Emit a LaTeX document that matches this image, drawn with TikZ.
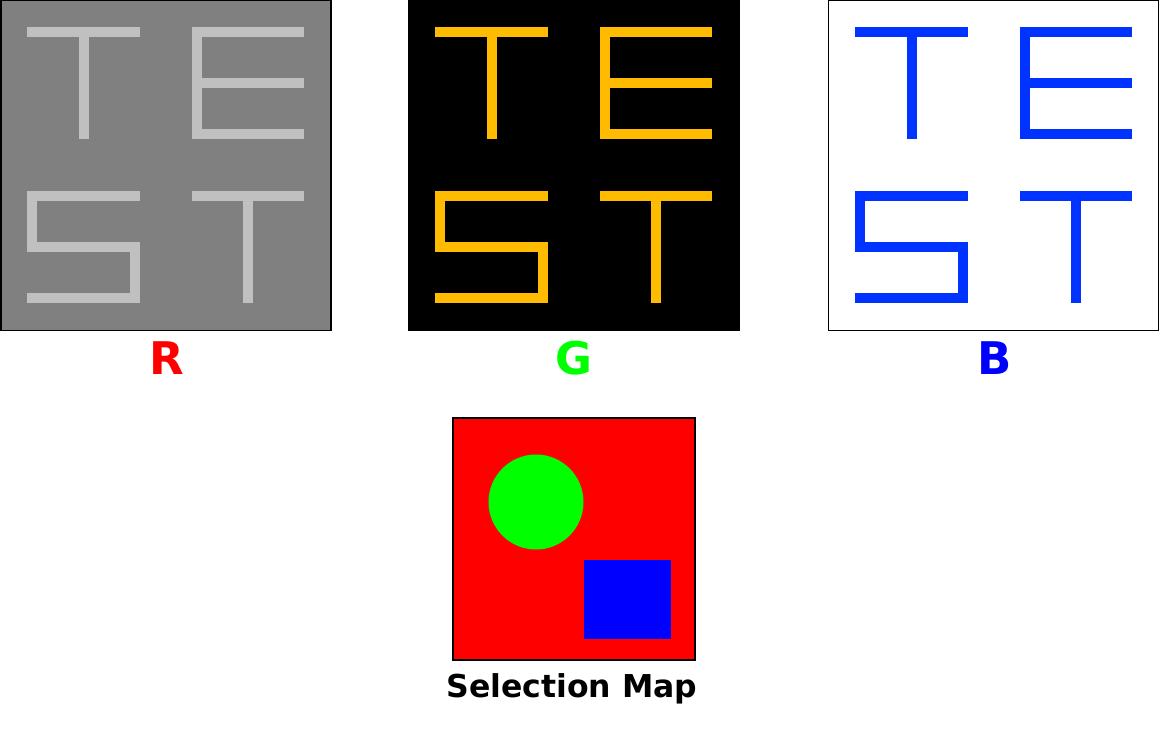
\documentclass[tikz,border=0pt]{standalone}
\usepackage{fontspec}
\setmainfont{DejaVu Sans}
\definecolor{panelgray}{HTML}{808080}
\definecolor{lettergray}{HTML}{C0C0C0}
\definecolor{amber}{HTML}{FFBB00}
\definecolor{letterblue}{HTML}{0033FF}
\definecolor{pureR}{HTML}{FF0000}
\definecolor{pureG}{HTML}{00FF00}
\definecolor{pureB}{HTML}{0000FF}
\newcommand\testglyphs[1]{%
  % T
  \fill[#1] (26,26) rectangle (139,36);
  \fill[#1] (78,26) rectangle (88,138);
  % E
  \fill[#1] (191,26) rectangle (201,138);
  \fill[#1] (191,26) rectangle (303,36);
  \fill[#1] (191,77) rectangle (303,87);
  \fill[#1] (191,128) rectangle (303,138);
  % S
  \fill[#1] (26,190) rectangle (139,200);
  \fill[#1] (26,190) rectangle (36,251);
  \fill[#1] (26,241) rectangle (139,251);
  \fill[#1] (129,241) rectangle (139,302);
  \fill[#1] (26,292) rectangle (139,302);
  % T
  \fill[#1] (191,190) rectangle (303,200);
  \fill[#1] (242,190) rectangle (252,302);
}
\begin{document}
\begin{tikzpicture}[x=1pt,y=-1pt,
  panel/.style={rectangle, draw=black, line width=1.5pt, minimum size=330pt, inner sep=0pt, outer sep=0pt},
  biglabel/.style={font=\fontsize{45}{54}\selectfont\bfseries, anchor=base, inner sep=0pt},
  maplabel/.style={font=\fontsize{31.5}{38}\selectfont\bfseries, anchor=base, inner sep=0pt, text=black},
  mapbox/.style={rectangle, draw=black, line width=1.5pt, fill=pureR, minimum size=242pt, inner sep=0pt, outer sep=0pt},
  blob/.style={circle, fill=pureG, minimum size=95pt, inner sep=0pt},
  block/.style={rectangle, fill=pureB, minimum width=87pt, minimum height=79pt, inner sep=0pt}]
\useasboundingbox (0,0) rectangle (1159,748);
\fill[white] (0,0) rectangle (1159,748);

% R panel
\node[panel, fill=panelgray] (rpanel) at (166,165.5) {};
\begin{scope}[shift={(rpanel.north west)}]
  \testglyphs{lettergray}
\end{scope}
\node[biglabel, text=pureR] (rlabel) at (167,374) {R};

% G panel
\node[panel, fill=black] (gpanel) at (574,165.5) {};
\begin{scope}[shift={(gpanel.north west)}]
  \testglyphs{amber}
\end{scope}
\node[biglabel, text=pureG] (glabel) at (574,374) {G};

% B panel
\node[panel, fill=white] (bpanel) at (993.5,165.5) {};
\begin{scope}[shift={(bpanel.north west)}]
  \testglyphs{letterblue}
\end{scope}
\node[biglabel, text=pureB] (blabel) at (995,374) {B};

% Selection map
\node[mapbox] (smap) at (574,539) {};
\node[blob] (circ) at (536,502) {};
\node[block] (sq) at (627.5,599.5) {};
\node[maplabel] (slabel) at (572,697) {Selection Map};
\end{tikzpicture}
\end{document}
